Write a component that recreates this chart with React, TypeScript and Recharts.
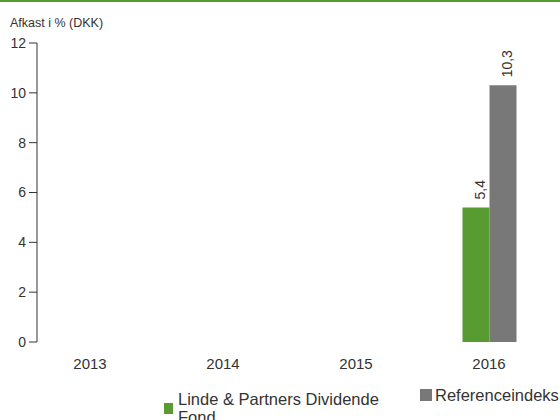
import { BarChart, Bar, XAxis, YAxis, LabelList } from 'recharts'

const years = ['2013', '2014', '2015', '2016']
const fundValues: (number | null)[] = [null, null, null, 5.4]
const indexValues: (number | null)[] = [null, null, null, 10.3]
const yTicks = [0, 2, 4, 6, 8, 10, 12]
const seriesNames = ['Linde & Partners Dividende Fond', 'Referenceindeks']
const seriesColors = ['#579b31', '#787878']

const data = years.map((year, i) => ({
  year,
  fund: fundValues[i],
  index: indexValues[i],
}))

const font = '"Liberation Sans", Arial, sans-serif'
const textColor = '#333333'

// rotated value label sitting above each bar
const renderValueLabel = (props: any) => {
  const { x, y, width, value } = props
  if (value == null) return null
  const cx = Number(x) + Number(width) / 2 + 4
  const cy = Number(y) - 8
  return (
    <text
      x={cx}
      y={cy}
      transform={`rotate(-90 ${cx} ${cy})`}
      textAnchor="start"
      dominantBaseline="central"
      fontSize={14}
      fill={textColor}
      fontFamily={font}
    >
      {String(value).replace('.', ',')}
    </text>
  )
}

export default function App() {
  return (
    <div
      style={{
        position: 'absolute',
        left: 0,
        top: 0,
        width: 560,
        height: 420,
        fontFamily: font,
        color: textColor,
        background: '#fff',
        overflow: 'hidden',
      }}
    >
      <div style={{ position: 'absolute', left: 0, top: 0, width: 560, height: 2, background: seriesColors[0] }} />
      <div style={{ position: 'absolute', left: 10, top: 16, fontSize: 12.5, lineHeight: '14px' }}>
        Afkast i % (DKK)
      </div>

      <BarChart
        width={560}
        height={420}
        data={data}
        margin={{ top: 43, right: 0, left: 0, bottom: 48 }}
        barGap={0}
      >
        <XAxis
          dataKey="year"
          axisLine={false}
          tickLine={false}
          tickMargin={10}
          padding={{ left: -13.5, right: 4.5 }}
          interval={0}
          tick={{ fontSize: 15, fill: textColor, fontFamily: font }}
        />
        <YAxis
          domain={[0, 12]}
          ticks={yTicks}
          width={37}
          tickSize={8}
          tickMargin={3}
          interval={0}
          axisLine={{ stroke: textColor }}
          tickLine={{ stroke: textColor }}
          tick={{ fontSize: 14, fill: textColor, fontFamily: font }}
        />
        <Bar dataKey="fund" name={seriesNames[0]} fill={seriesColors[0]} barSize={27} isAnimationActive={false}>
          <LabelList dataKey="fund" content={renderValueLabel} />
        </Bar>
        <Bar dataKey="index" name={seriesNames[1]} fill={seriesColors[1]} barSize={27} isAnimationActive={false}>
          <LabelList dataKey="index" content={renderValueLabel} />
        </Bar>
      </BarChart>

      {/* Legend */}
      <div style={{ position: 'absolute', left: 164, top: 390, display: 'flex', alignItems: 'center' }}>
        <div style={{ width: 9, height: 11, background: seriesColors[0], marginRight: 5 }} />
        <div style={{ width: 230, fontSize: 16.5, lineHeight: '18px' }}>{seriesNames[0]}</div>
      </div>
      <div style={{ position: 'absolute', left: 420, top: 386, display: 'flex', alignItems: 'center' }}>
        <div style={{ width: 12, height: 12, background: seriesColors[1], marginRight: 3 }} />
        <div style={{ fontSize: 16.5, lineHeight: '18px', whiteSpace: 'nowrap' }}>{seriesNames[1]}</div>
      </div>
    </div>
  )
}
